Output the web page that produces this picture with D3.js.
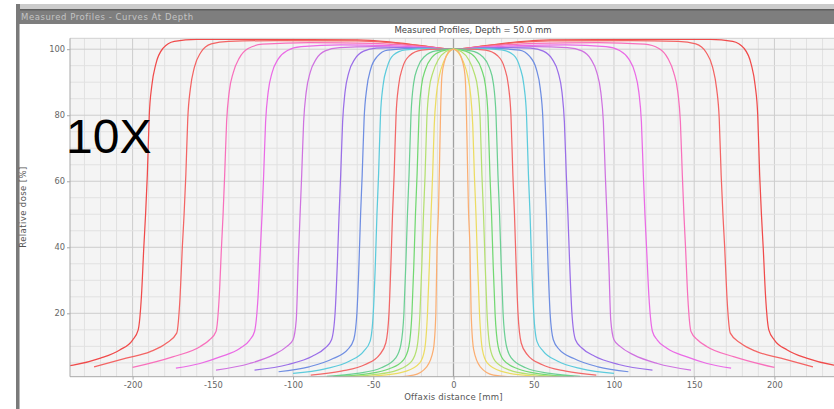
<!DOCTYPE html>
<html>
<head>
<meta charset="utf-8">
<script src="https://cdn.jsdelivr.net/npm/d3@7"></script>
<style>
  body { margin: 0; background: #fff; }
  svg { display: block; }
  text { font-family: "DejaVu Sans", sans-serif; }
</style>
</head>
<body>
<div id="chart"></div>
<script>
// ticks
const xTicks = [-200, -150, -100, -50, 0, 50, 100, 150, 200]
const yTicks = [20, 40, 60, 80, 100]

// one colour per measured field, outer to inner
const curveColors = ['#f04a4a', '#f36464', '#f870bc', '#ea6ae6', '#cf72e0', '#9a6ee8',
  '#6f8ee2', '#5ccbdc', '#f26868', '#6ccf94', '#72d872', '#b4e070', '#ecdc62', '#fbae72']

// left half of each profile [offaxis mm, dose %]; profiles are symmetric
const leftHalves = [
  [[-250,3.7],[-237,4.3],[-220,6.4],[-208,8.9],[-200,11.9],[-196.5,15],[-194.5,25],[-193,40],[-191.9,50],[-190.8,62],[-189.6,80],[-188,89],[-185.5,95.5],[-181,100.3],[-174,102.4],[-160,103],[-120,103],[-60,102.8],[-40,102.2],[-20,101.1],[0,100]],
  [[-224,3.8],[-204,6.4],[-189,8.4],[-179,10.9],[-172.5,14],[-170.4,25],[-169,40],[-167.9,50],[-166.8,62],[-165.6,79],[-164,88],[-161.5,94.5],[-157.5,99],[-151,101.6],[-140,102.4],[-110,102.6],[-60,102.5],[-40,102],[-20,101],[0,100]],
  [[-200,3.6],[-175,6.8],[-158,9.9],[-152,12],[-148,14.5],[-146,25],[-144.6,40],[-143.6,50],[-142.6,62],[-141.4,78],[-139.8,87],[-137.2,93],[-133.5,97.3],[-128,100.2],[-119,101.5],[-90,102],[-50,101.8],[-30,101.2],[-15,100.6],[0,100]],
  [[-173,3.4],[-158,4.8],[-145.5,6.8],[-133,9.4],[-127,11.9],[-124,14.5],[-121.8,25],[-120.3,40],[-119.3,50],[-118.3,62],[-117.1,78],[-115.5,87],[-113,93],[-109.3,97],[-103.5,99.6],[-95,100.8],[-70,101.3],[-40,101.1],[-20,100.6],[0,100]],
  [[-148,2.8],[-127,4.8],[-112.3,7.4],[-104,9.9],[-100,12],[-98,18],[-96.8,35],[-95.6,50],[-94.6,62],[-93.4,78],[-91.8,87],[-89.3,93],[-85.6,97],[-80,99.5],[-71,100.5],[-50,100.8],[-25,100.5],[0,100]],
  [[-124,2.8],[-103,4.5],[-88,7],[-80,9.5],[-76,12],[-73.8,20],[-72.4,35],[-71.3,50],[-70.3,62],[-69.1,78],[-67.6,87],[-65.2,93],[-61.5,97],[-56,99.4],[-48,100.3],[-35,100.5],[-15,100.3],[0,100]],
  [[-109,2.3],[-90,3.8],[-75,6.3],[-66,9],[-62.2,12],[-60.2,20],[-58.9,35],[-57.9,50],[-56.9,62],[-55.7,79],[-54.1,88],[-51.6,94],[-47.5,97.8],[-41,99.7],[-20,100.3],[0,100]],
  [[-100,1.8],[-80,3.2],[-65,5.5],[-56,8.5],[-52,11.5],[-50,20],[-48.7,35],[-47.7,50],[-46.7,62],[-45.5,80],[-43.9,89],[-41.4,94.5],[-37.5,98.2],[-30,99.8],[-15,100.2],[0,100]],
  [[-89,1.3],[-70,2.5],[-55,4.5],[-46,7.5],[-42.2,11],[-40.2,20],[-39,35],[-38,50],[-37,62],[-35.8,80],[-34.2,89],[-31.7,94.5],[-27.5,98],[-20,99.7],[-10,100],[0,100]],
  [[-79,0.9],[-60,1.8],[-45,3.5],[-36,6.5],[-32.8,10.5],[-30.9,20],[-29.7,35],[-28.7,50],[-27.7,62],[-26.5,80],[-24.9,89.5],[-22.3,94.5],[-18,97.8],[-11,99.5],[0,100]],
  [[-75,0.8],[-55,1.6],[-40,3.2],[-31,6],[-27.8,10],[-25.9,20],[-24.7,35],[-23.7,50],[-22.7,62],[-21.5,80],[-19.9,89],[-17.4,94],[-13.5,97.5],[-7.5,99.4],[0,100]],
  [[-70,0.7],[-50,1.4],[-35,2.8],[-26,5.5],[-22.8,9.5],[-20.9,20],[-19.7,35],[-18.7,50],[-17.7,62],[-16.6,79],[-15.1,88],[-12.8,93],[-9.5,96.8],[-5,99.2],[0,100]],
  [[-65,0.6],[-45,1.2],[-30,2.4],[-21,5],[-18,9],[-16.2,20],[-15,35],[-14,50],[-13,62],[-12,77],[-10.7,86],[-8.8,92],[-6.3,96],[-3,99],[0,100]],
  [[-60,0.4],[-44,0.5],[-25,1.3],[-16.7,3.8],[-12.6,8.9],[-11,20],[-10.3,39],[-9.3,52],[-8.6,68],[-8,82],[-7.2,92],[-5.5,96.5],[-3.4,99],[-1.3,99.8],[0,100]]
]

const width = 834, height = 409
const plot = { left: 70, right: 837, top: 38.3, bottom: 376.7 }

const svg = d3.select('#chart')
  .append('svg')
  .attr('width', width)
  .attr('height', height)

// window chrome
svg.append('rect').attr('x', 16).attr('y', 4).attr('width', width - 16).attr('height', 6).style('fill', '#cbcbcb')
svg.append('rect').attr('x', 16).attr('y', 9).attr('width', width - 16).attr('height', 15).style('fill', '#7e7e7e')
svg.append('rect').attr('x', 16).attr('y', 9).attr('width', width - 16).attr('height', 1.5).style('fill', '#5e5e5e')
svg.append('rect').attr('x', 16).attr('y', 4).attr('width', 4).attr('height', height - 4).style('fill', '#7a7a7a')
svg.append('rect').attr('x', 19).attr('y', 24).attr('width', 1).attr('height', height - 24).style('fill', '#b8b8b8')
svg.append('text')
  .attr('x', 21).attr('y', 19.5)
  .style('font-size', '8.5px')
  .style('letter-spacing', '0.55px')
  .style('fill', '#c4c4c4')
  .text('Measured Profiles - Curves At Depth')

const x = d3.scaleLinear().domain([-239, 239]).range([plot.left, plot.right])
const y = d3.scaleLinear().domain([0.8, 103.3]).range([plot.bottom, plot.top])

svg.append('rect')
  .attr('x', plot.left).attr('y', plot.top)
  .attr('width', plot.right - plot.left).attr('height', plot.bottom - plot.top)
  .style('fill', '#f4f4f4')

const grid = svg.append('g')
grid.selectAll('.vminor')
  .data(d3.range(-230, 240, 10))
  .enter()
  .append('line')
  .attr('x1', d => x(d)).attr('x2', d => x(d))
  .attr('y1', plot.top).attr('y2', plot.bottom)
  .style('stroke', d => d === 0 ? '#a0a0a0' : (d % 50 === 0 ? '#cdcdcd' : '#e1e1e1'))
  .style('stroke-width', d => d === 0 ? 1.3 : 1)
grid.selectAll('.hminor')
  .data(d3.range(5, 105, 5))
  .enter()
  .append('line')
  .attr('x1', plot.left).attr('x2', plot.right)
  .attr('y1', d => y(d)).attr('y2', d => y(d))
  .style('stroke', d => d % 20 === 0 ? '#cdcdcd' : '#e1e1e1')

svg.append('clipPath').attr('id', 'clip')
  .append('rect')
  .attr('x', plot.left).attr('y', plot.top)
  .attr('width', plot.right - plot.left).attr('height', plot.bottom - plot.top)

const line = d3.line()
  .x(d => x(d[0]))
  .y(d => y(d[1]))
  .curve(d3.curveMonotoneX)

const profiles = leftHalves.map(half => {
  const right = half.slice(0, -1).reverse().map(p => [-p[0], p[1]])
  return half.concat(right)
})

svg.append('g')
  .attr('clip-path', 'url(#clip)')
  .selectAll('path')
  .data(profiles)
  .enter()
  .append('path')
  .attr('d', line)
  .style('fill', 'none')
  .style('stroke', (d, i) => curveColors[i])
  .style('stroke-width', 1.25)

// frame
svg.append('line').attr('x1', plot.left).attr('x2', plot.right).attr('y1', plot.top).attr('y2', plot.top).style('stroke', '#d0d0d0')
svg.append('line').attr('x1', plot.left).attr('x2', plot.left).attr('y1', plot.top).attr('y2', plot.bottom).style('stroke', '#a8a8a8')
svg.append('line').attr('x1', plot.left).attr('x2', plot.right).attr('y1', plot.bottom).attr('y2', plot.bottom).style('stroke', '#a8a8a8')

const xAxis = d3.axisBottom(x).tickValues(xTicks).tickSize(3).tickSizeOuter(0).tickFormat(d => String(d))
const gx = svg.append('g').attr('transform', `translate(0,${plot.bottom})`).call(xAxis)
gx.select('.domain').remove()
gx.selectAll('line').style('stroke', '#a8a8a8')
gx.selectAll('text').style('font-size', '8.3px').style('fill', '#666').attr('dy', '0.55em').attr('y', 6.5)

const yAxis = d3.axisLeft(y).tickValues(yTicks).tickSize(3).tickSizeOuter(0)
const gy = svg.append('g').attr('transform', `translate(${plot.left},0)`).call(yAxis)
gy.select('.domain').remove()
gy.selectAll('line').style('stroke', '#a8a8a8')
gy.selectAll('text').style('font-size', '8.3px').style('fill', '#666').attr('x', -5)

svg.append('text')
  .attr('x', 473).attr('y', 33)
  .attr('text-anchor', 'middle')
  .style('font-size', '8.5px')
  .style('fill', '#444')
  .text('Measured Profiles, Depth = 50.0 mm')

svg.append('text')
  .attr('x', 453.5).attr('y', 399.5)
  .attr('text-anchor', 'middle')
  .style('font-size', '8.5px')
  .style('letter-spacing', '0.2px')
  .style('fill', '#555')
  .text('Offaxis distance [mm]')

svg.append('text')
  .attr('transform', 'translate(26,207) rotate(-90)')
  .attr('text-anchor', 'middle')
  .style('font-size', '8.5px')
  .style('letter-spacing', '0.4px')
  .style('fill', '#555')
  .text('Relative dose [%]')

svg.append('text')
  .attr('x', 66).attr('y', 153)
  .style('font-family', '"Liberation Sans", Arial, sans-serif')
  .style('font-size', '48px')
  .style('fill', '#000')
  .text('10X')
</script>
</body>
</html>
